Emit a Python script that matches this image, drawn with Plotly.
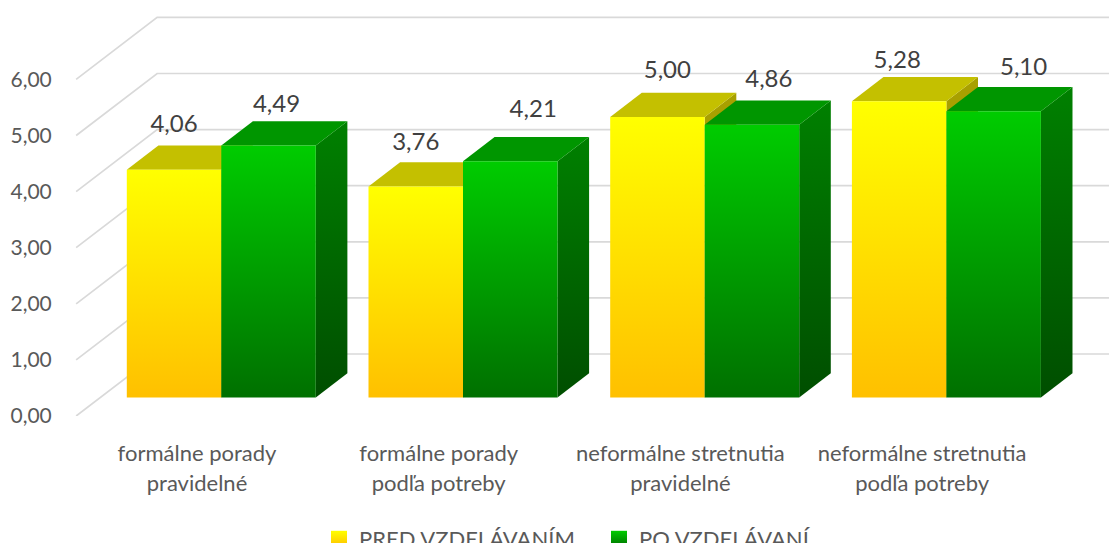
import plotly.graph_objects as go

# ---- data ----
categories_line1 = ["formálne porady", "formálne porady", "neformálne stretnutia", "neformálne stretnutia"]
categories_line2 = ["pravidelné", "podľa potreby", "pravidelné", "podľa potreby"]
series_names = ["PRED VZDELÁVANÍM", "PO VZDELÁVANÍ"]
pred_values = [4.06, 3.76, 5.00, 5.28]
po_values = [4.49, 4.21, 4.86, 5.10]
value_ticks = [0, 1, 2, 3, 4, 5, 6]

# ---- canvas / projection style ----
W, H = 1109, 543
PX_LEFT, PX_FLOOR = 75, 416        # plot area left, pixel of value 0 in the front plane
PX_CAT, PX_UNIT = 241.7, 56.1      # pixels per category, pixels per value unit
PX_FIRST = 197                     # pixel of category 0 in the front plane
SKEW_X, SKEW_Y = 81 / PX_CAT, 62 / PX_UNIT  # wall depth, in axis units
Z_FRONT, Z_BACK = 0.30, 0.69       # bar depth, fraction of the floor
BAR_W = 0.391

# per-label nudges (category units / value units), as placed by hand in the source
LABEL_DX = [[0.0, 0.033], [0.0, 0.095], [0.041, 0.070], [-0.008, 0.124]]
LABEL_DY = [[0.78, 0.70], [0.75, 0.89], [0.80, 0.78], [0.70, 0.75]]

GRID = "#D9D9D9"
TEXT = "#595959"
LABEL = "#404040"
FONT = "Lato"
LOOK = [
    dict(front=["#FFFF00", "#FFC000"], side=["#A8A000", "#A8A000"], top="#C4C000"),
    dict(front=["#00CC00", "#007000"], side=["#008000", "#004E00"], top="#009600"),
]


def project(c, v, z):
    return c + z * SKEW_X, v + z * SKEW_Y


def poly(pts):
    xs, ys = zip(*pts)
    return list(xs) + [xs[0]], list(ys) + [ys[0]]


fig = go.Figure()

# grid: side wall diagonals and back wall lines
x_end = (W - PX_FIRST) / PX_CAT
for v in value_ticks:
    p0 = project(-0.5, v, 0)
    p1 = project(-0.5, v, 1)
    p2 = (x_end + 1, p1[1])
    fig.add_trace(go.Scatter(x=[p0[0], p1[0], p2[0]], y=[p0[1], p1[1], p2[1]], mode="lines",
                             line=dict(color=GRID, width=1.7), showlegend=False, hoverinfo="skip"))


def face(pts, colors):
    xs, ys = poly(pts)
    kw = dict(x=xs, y=ys, mode="lines", line=dict(width=0), fill="toself",
              showlegend=False, hoverinfo="skip")
    if colors[0] == colors[1]:
        kw["fillcolor"] = colors[0]
    else:
        kw["fillgradient"] = dict(type="vertical", colorscale=[[0, colors[1]], [1, colors[0]]])
    fig.add_trace(go.Scatter(**kw))


def bar(left, value, look):
    right = left + BAR_W
    a = project(left, 0, Z_FRONT)
    b = project(right, 0, Z_FRONT)
    c = project(right, value, Z_FRONT)
    d = project(left, value, Z_FRONT)
    e = project(right, 0, Z_BACK)
    f = project(right, value, Z_BACK)
    g = project(left, value, Z_BACK)
    face([b, e, f, c], look["side"])
    face([d, c, f, g], [look["top"], look["top"]])
    face([a, b, c, d], look["front"])


series = [pred_values, po_values]
for i in range(len(categories_line1)):
    for s, values in enumerate(series):
        bar(i - BAR_W + s * BAR_W, values[i], LOOK[s])

# data labels
lx, ly, lt = [], [], []
for i in range(len(categories_line1)):
    for s, values in enumerate(series):
        x0, y0 = project(i - BAR_W + (s + 0.5) * BAR_W, values[i], Z_FRONT)
        lx.append(x0 + LABEL_DX[i][s])
        ly.append(y0 + LABEL_DY[i][s])
        lt.append(f"{values[i]:.2f}".replace(".", ","))
fig.add_trace(go.Scatter(x=lx, y=ly, text=lt, mode="text", textposition="middle center",
                         textfont=dict(family=FONT, size=24, color=LABEL),
                         showlegend=False, hoverinfo="skip"))

# second line of the category labels lives on an overlaid axis
fig.add_trace(go.Scatter(x=list(range(4)), y=[None] * 4, xaxis="x2", mode="markers",
                         showlegend=False, hoverinfo="skip"))

# legend
for s, name in enumerate(series_names):
    fig.add_trace(go.Scatter(x=[None], y=[None], mode="markers", name=name,
                             marker=dict(symbol="square", size=16, color=LOOK[s]["front"][0],
                                         gradient=dict(type="vertical", color=LOOK[s]["front"][1]))))

x_range = [(PX_LEFT - PX_FIRST) / PX_CAT, x_end]
axis_x = dict(range=x_range, tickmode="array", tickvals=list(range(4)), showgrid=False,
              zeroline=False, showline=False, ticks="outside", tickcolor="rgba(0,0,0,0)",
              automargin=False, tickfont=dict(family=FONT, size=22, color=TEXT))

fig.update_layout(
    width=W, height=H, template="none", paper_bgcolor="white", plot_bgcolor="white",
    margin=dict(l=PX_LEFT, r=0, t=0, b=H - PX_FLOOR, autoexpand=False),
    separators=",.",
    xaxis=dict(axis_x, ticktext=categories_line1, ticklen=18),
    xaxis2=dict(axis_x, ticktext=categories_line2, ticklen=48, overlaying="x", side="bottom", anchor="y"),
    yaxis=dict(range=[0, PX_FLOOR / PX_UNIT], tickmode="array", tickvals=value_ticks, tickformat=".2f",
               showgrid=False, zeroline=False, showline=False, ticks="outside", ticklen=18,
               tickcolor="rgba(0,0,0,0)", automargin=False,
               tickfont=dict(family=FONT, size=21, color=TEXT)),
    legend=dict(orientation="h", x=(319 - PX_LEFT) / (W - PX_LEFT), xanchor="left",
                y=-(518 - PX_FLOOR) / PX_FLOOR, yanchor="top", entrywidth=235, entrywidthmode="pixels",
                bgcolor="rgba(0,0,0,0)", font=dict(family=FONT, size=22, color=TEXT)),
    showlegend=True,
)

fig.write_html("out.html", config=dict(displayModeBar=False),
               post_script="document.body.style.margin='0';document.body.style.overflow='hidden';")
